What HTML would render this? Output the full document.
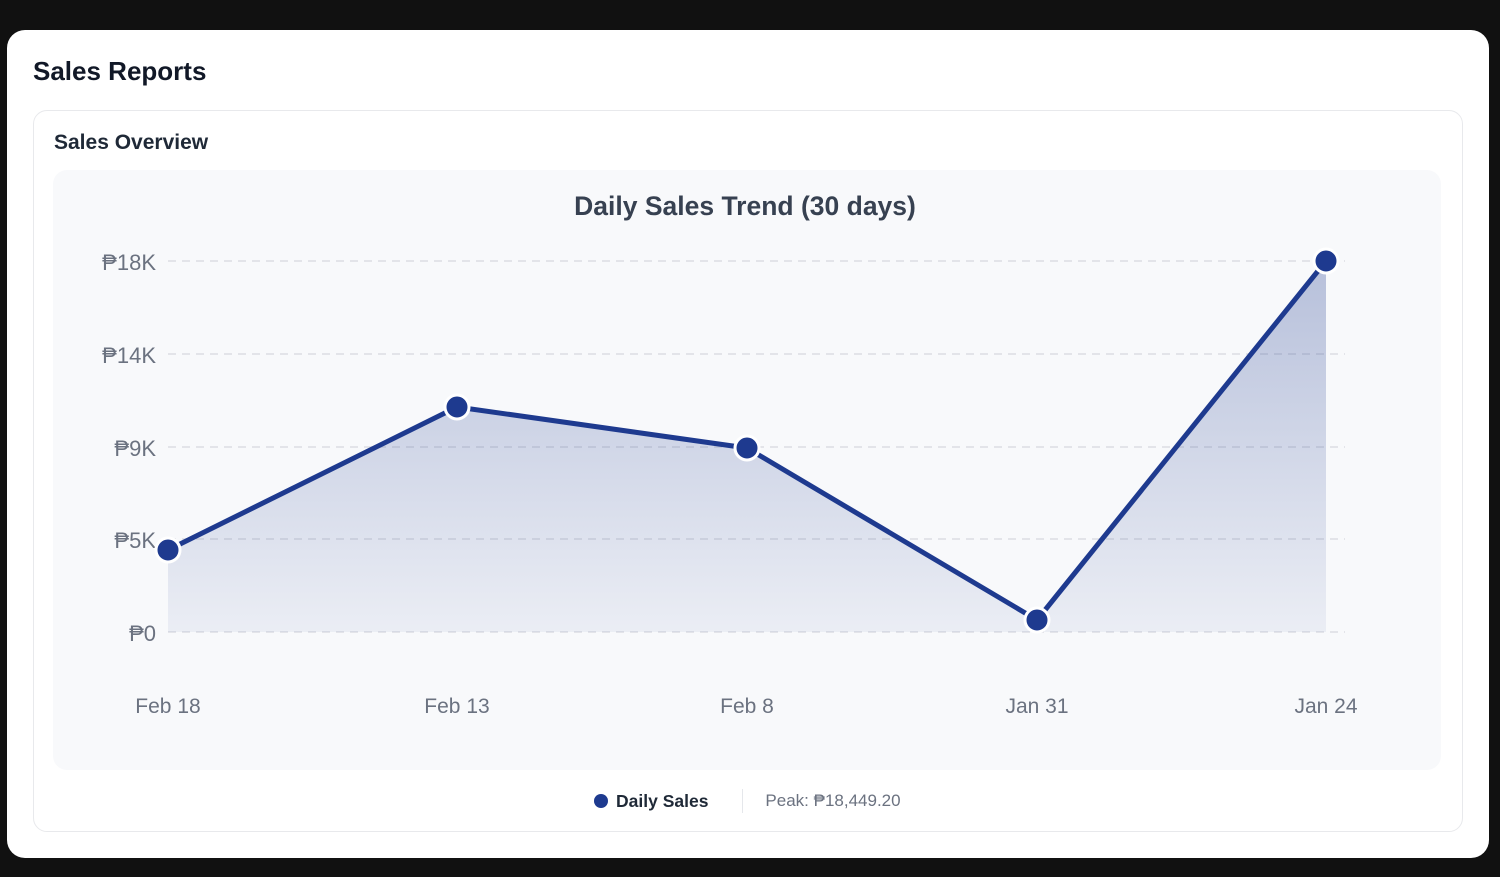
<!DOCTYPE html>
<html><head><meta charset="utf-8"><style>
html,body{margin:0;padding:0;width:1500px;height:877px;background:#111;overflow:hidden;font-family:"Liberation Sans",sans-serif}
.card{position:absolute;left:7px;top:30px;width:1482px;height:828px;background:#fff;border-radius:18px}
.h1{position:absolute;left:26px;top:26px;font-size:26px;font-weight:bold;color:#111827}
.inner{position:absolute;left:26px;top:80px;width:1428px;height:720px;border:1px solid #e8e9ec;border-radius:14px}
.h2{position:absolute;left:20px;top:20px;font-size:21px;font-weight:bold;color:#1f2937}
.chart{position:absolute;left:19px;top:59px;width:1388px;height:600px;background:#f8f9fb;border-radius:14px}
svg{position:absolute;left:0;top:0}
.leg{position:absolute;top:678px;left:560px;font-size:17.5px;color:#1f2937;display:flex;align-items:center}
</style></head><body>
<div class="card">
<div class="h1">Sales Reports</div>
<div class="inner">
<div class="h2">Sales Overview</div>
<div class="chart"></div>
<div class="leg"><span style="width:14px;height:14px;border-radius:50%;background:#1e3a8f;display:inline-block;margin-right:8px"></span><span style="font-weight:bold">Daily Sales</span><span style="display:inline-block;width:1px;height:24px;background:#e5e7eb;margin:0 22px 0 34px"></span><span style="color:#6b7280;font-size:17px">Peak: ₱18,449.20</span></div>
</div>
</div>
<svg width="1500" height="877" font-family="Liberation Sans, sans-serif">
<defs><linearGradient id="g" x1="0" y1="0" x2="0" y2="1"><stop offset="0" stop-color="#1e3a8f" stop-opacity="0.3"/><stop offset="1" stop-color="#1e3a8f" stop-opacity="0.06"/></linearGradient></defs>
<text x="745" y="215" text-anchor="middle" font-size="26.5" font-weight="bold" fill="#374151">Daily Sales Trend (30 days)</text>
<g stroke="#dcdee3" stroke-width="1.5" stroke-dasharray="8,6">
<line x1="168" y1="261" x2="1345" y2="261"/><line x1="168" y1="354" x2="1345" y2="354"/><line x1="168" y1="447" x2="1345" y2="447"/><line x1="168" y1="539" x2="1345" y2="539"/><line x1="168" y1="632" x2="1345" y2="632"/></g>
<g font-size="22" fill="#6b7280" text-anchor="end">
<text x="156" y="270">₱18K</text><text x="156" y="363">₱14K</text><text x="156" y="456">₱9K</text><text x="156" y="548">₱5K</text><text x="156" y="641">₱0</text></g>
<g font-size="21" fill="#6b7280" text-anchor="middle">
<text x="168" y="713">Feb 18</text><text x="457" y="713">Feb 13</text><text x="747" y="713">Feb 8</text><text x="1037" y="713">Jan 31</text><text x="1326" y="713">Jan 24</text></g>
<path d="M168,550 L457,407 L747,448 L1037,620 L1326,261 L1326,632 L168,632Z" fill="url(#g)"/>
<polyline points="168,550 457,407 747,448 1037,620 1326,261" fill="none" stroke="#1e3a8f" stroke-width="5" stroke-linejoin="round"/>
<g fill="#1e3a8f" stroke="#fff" stroke-width="3">
<circle cx="168" cy="550" r="12"/><circle cx="457" cy="407" r="12"/><circle cx="747" cy="448" r="12"/><circle cx="1037" cy="620" r="12"/><circle cx="1326" cy="261" r="12"/></g>
</svg>
</body></html>
